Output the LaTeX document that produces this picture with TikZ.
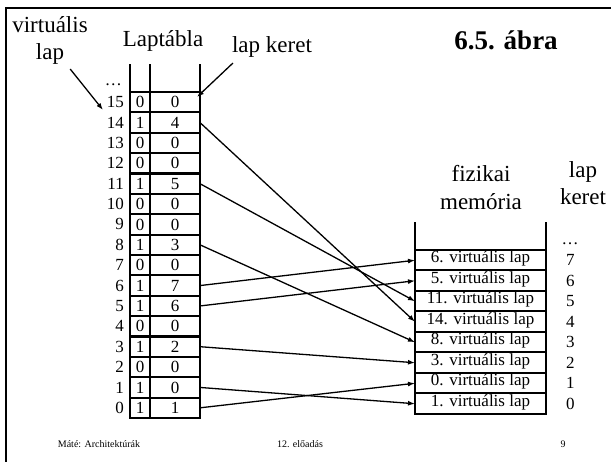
\documentclass[tikz,border=0pt]{standalone}
\usepackage{fontspec}
\setmainfont{Liberation Serif}
\usetikzlibrary{arrows.meta,positioning,calc}

\begin{document}
\begin{tikzpicture}[x=1pt, y=-1pt,
    cell/.style={draw, line width=2pt, minimum height=20.4pt, inner sep=0pt, outer sep=0pt, font=\fontsize{17}{19}\selectfont},
    mem/.style={draw, line width=2pt, minimum width=131pt, minimum height=20.5pt, inner sep=0pt, outer sep=0pt, text height=0.7em, text depth=0.2em, font=\fontsize{17}{19}\selectfont},
    num/.style={inner sep=1pt, font=\fontsize{17}{19}\selectfont},
    label/.style={inner sep=0pt, anchor=base, font=\fontsize{23}{27}\selectfont},
    foot/.style={inner sep=0pt, anchor=base, font=\fontsize{10}{12}\selectfont},
    arrow/.style={-{Latex[length=7pt,width=5pt]}, line width=1.3pt}
]
\useasboundingbox (0,0) rectangle (611,462);
% slide frame
\draw[line width=2.5pt] (6,462) -- (6,8) -- (611,8);

% headings
\node[label] (vl1) at (50,33) {virtuális};
\node[label] (vl2) at (50,60) {lap};
\node[label] (lt) at (163,47) {Laptábla};
\node[label] (lk) at (272,53) {lap keret};
\node[label, font=\fontsize{27}{30}\selectfont\bfseries] (title) at (506,50) {6.5. ábra};
\node[label] (fm1) at (481,182) {fizikai};
\node[label] (fm2) at (481,210) {memória};
\node[label] (lk1) at (583,178) {lap};
\node[label] (lk2) at (583,205) {keret};

% page table: index / present bit / frame
\foreach \k/\v/\f [evaluate=\k as \y using 102.2+(15-\k)*20.375] in
    {15/0/0,14/1/4,13/0/0,12/0/0,11/1/5,10/0/0,9/0/0,8/1/3,
     7/0/0,6/1/7,5/1/6,4/0/0,3/1/2,2/0/0,1/1/0,0/1/1} {
  \node[cell, minimum width=20pt] (v\k) at (140,\y) {\v};
  \node[cell, minimum width=50pt] (f\k) at (175,\y) {\f};
  \node[num, left=5pt of v\k] (n\k) {\k};
}
\draw[line width=2pt] (v15.north west) -- ++(0,-28)
                      (v15.north east) -- ++(0,-28)
                      (f15.north east) -- ++(0,-28);
\node[num, anchor=base east] (tdots) at (123,86) {\dots};

% physical memory
\foreach \j/\p [evaluate=\j as \y using 260.25+(7-\j)*20.5] in
    {7/6,6/5,5/11,4/14,3/8,2/3,1/0,0/1} {
  \node[mem] (m\j) at (480.5,\y) {\p. virtuális lap};
  \node[num, right=19pt of m\j] (k\j) {\j};
}
\draw[line width=2pt] (m7.north west) -- ++(0,-28)
                      (m7.north east) -- ++(0,-28);
\node[num, anchor=base] (mdots) at (570,245) {\dots};

% mappings
\foreach \k/\j in {14/4,11/5,8/3,6/7,5/6,3/2,1/0,0/1}
  \draw[arrow] (f\k.east) -- (m\j.west);

% pointers from the headings
\coordinate (vtip) at (103,110);
\coordinate (ktip) at (197,97);
\draw[arrow] ($(vl2.south east)+(6,4)$) -- (vtip);
\draw[arrow] ($(lk.south west)+(1,5)$) -- (ktip);

% footer
\node[foot] (fl) at (99,447) {Máté: Architektúrák};
\node[foot] (fc) at (300,447) {12. előadás};
\node[foot] (fr) at (563,447) {9};
\end{tikzpicture}
\end{document}
